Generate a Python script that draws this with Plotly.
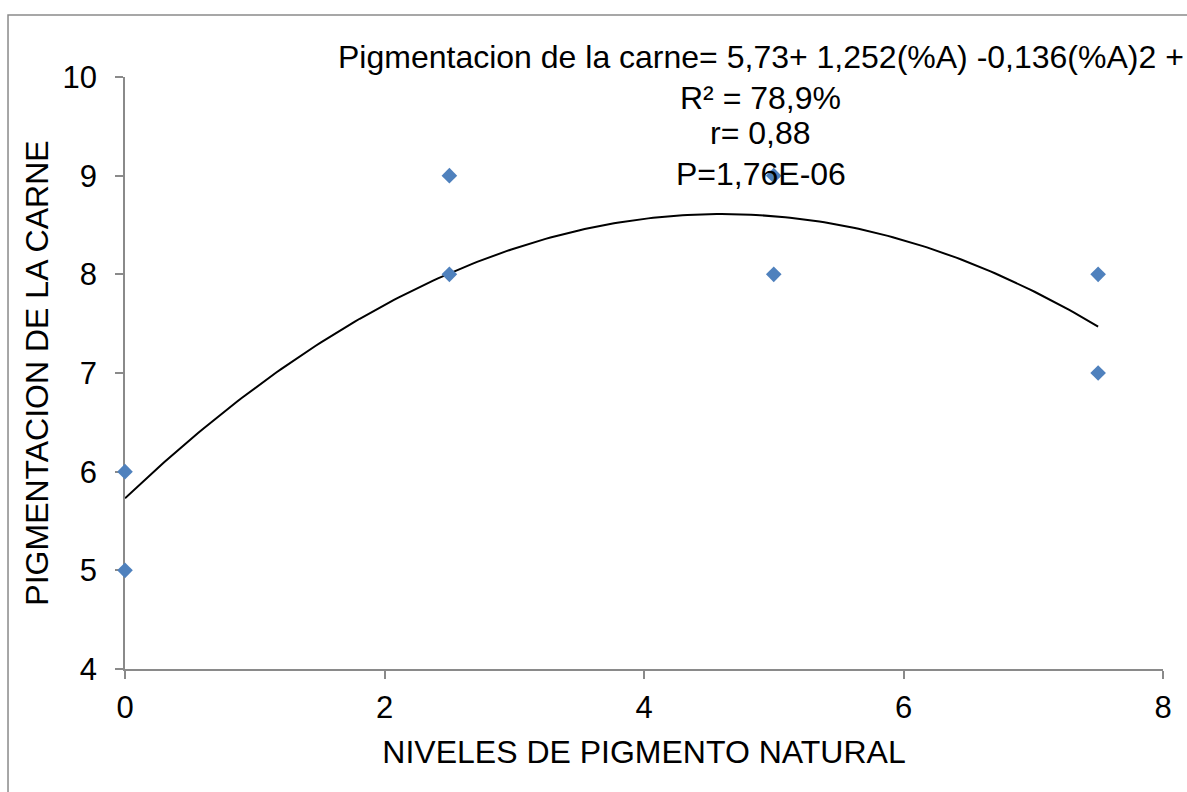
import numpy as np
import plotly.graph_objects as go

# Observed meat pigmentation scores per level of natural pigment
niveles = [0, 0, 2.5, 2.5, 5, 5, 7.5, 7.5]
pigmentacion = [6, 5, 9, 8, 9, 8, 8, 7]

# Quadratic trend: y = b0 + b1*x + b2*x^2
coef = [5.73, 1.252, -0.136]
x_trend_range = [0, 7.5]

x_ticks = [0, 2, 4, 6, 8]
y_ticks = [4, 5, 6, 7, 8, 9, 10]

equation_lines = [
    "Pigmentacion de la carne= 5,73+ 1,252(%A) -0,136(%A)2 +",
    "R² = 78,9%",
    "r= 0,88",
    "P=1,76E-06",
]
# vertical placement of each equation line (paper fraction)
equation_y = [1.0333, 0.965, 0.905, 0.8367]
equation_x = 0.6127

FONT = "Liberation Sans, Arial, sans-serif"
GRAY = "#8a8a8a"

xt = np.linspace(x_trend_range[0], x_trend_range[1], 200)
yt = coef[0] + coef[1] * xt + coef[2] * xt ** 2

fig = go.Figure()
fig.add_trace(go.Scatter(
    x=xt, y=yt, mode="lines",
    line=dict(color="black", width=2),
    hoverinfo="skip", showlegend=False,
))
fig.add_trace(go.Scatter(
    x=niveles, y=pigmentacion, mode="markers",
    marker=dict(symbol="diamond", size=12, color="#4F81BD",
                line=dict(width=0)),
    cliponaxis=False, showlegend=False,
))

for text, yv in zip(equation_lines, equation_y):
    fig.add_annotation(
        x=equation_x, y=yv, xref="paper", yref="paper", text=text,
        showarrow=False, xanchor="center", yanchor="middle",
        font=dict(family=FONT, size=32, color="black"),
    )

# Chart-area frame
fig.add_shape(
    type="rect", xref="paper", yref="paper",
    x0=-0.1127, x1=1.04, y0=-0.23, y1=1.1047,
    line=dict(color=GRAY, width=1.5), fillcolor="rgba(0,0,0,0)",
    layer="below",
)

axis_common = dict(
    showgrid=False, zeroline=False, showline=True,
    linecolor=GRAY, linewidth=1.5,
    ticks="outside", ticklen=8, tickcolor=GRAY, tickwidth=1.5,
    tickfont=dict(family=FONT, size=31, color="black"),
    layer="below traces",
)

fig.update_layout(
    width=1187, height=792,
    margin=dict(l=125, r=24, t=77, b=123),
    paper_bgcolor="white", plot_bgcolor="white",
    font=dict(family=FONT, color="black"),
    xaxis=dict(
        range=[0, 8], tickvals=x_ticks, ticklabelstandoff=2,
        title=dict(text="NIVELES DE PIGMENTO NATURAL",
                   font=dict(family=FONT, size=32, color="black"),
                   standoff=17),
        **axis_common,
    ),
    yaxis=dict(
        range=[4, 10], tickvals=y_ticks, ticklabelstandoff=12,
        title=dict(text="PIGMENTACION DE LA CARNE",
                   font=dict(family=FONT, size=32, color="black"),
                   standoff=4),
        **axis_common,
    ),
)

fig.write_html("out.html")
